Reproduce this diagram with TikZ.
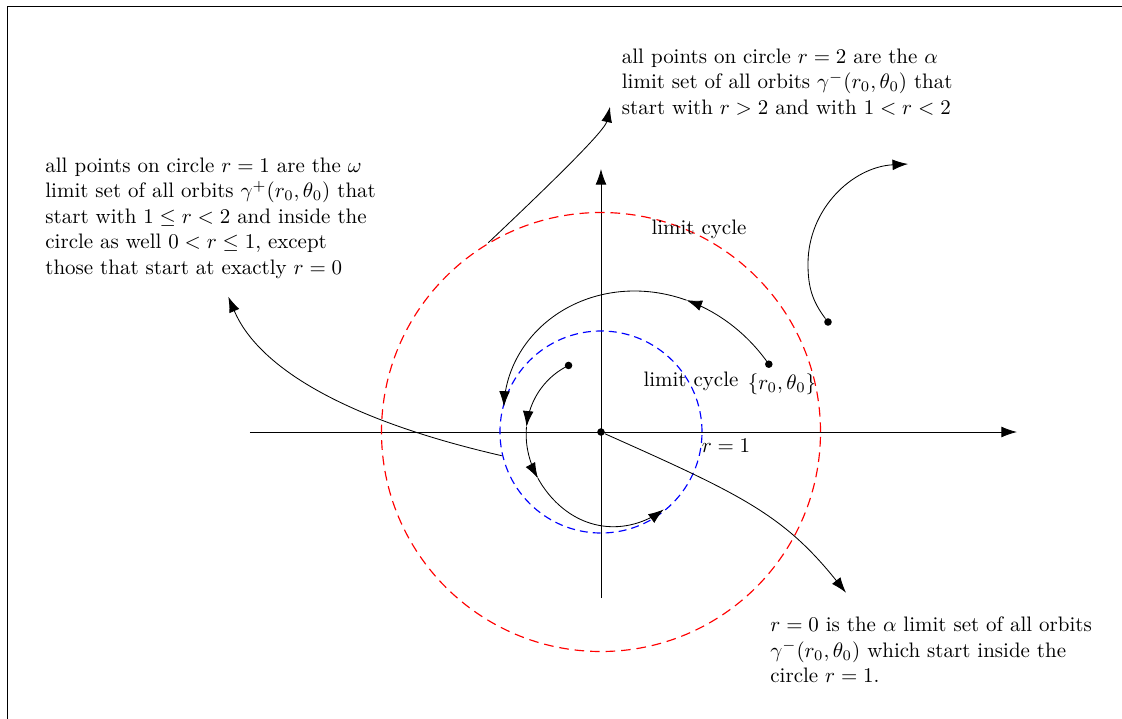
\documentclass[tikz,border=0pt]{standalone}
\usepackage{amsmath,amssymb}
\usepackage{tikz}
\usetikzlibrary{arrows.meta}

\begin{document}
\begin{tikzpicture}[x=0.01677cm, y=0.01677cm,
  font=\fontsize{10pt}{12.2pt}\selectfont, >={Latex[length=2.6mm,width=1.8mm]},
  declare function={spiralout(\t)=181-0.72*(\t-22)+0.0011*(\t-22)*(\t-22);
                    spiralin(\t)=101-27/(1+exp((\t-250)/20));},
  dot/.style={circle, fill=black, inner sep=0pt, minimum size=3.6pt},
  note/.style={align=left, inner sep=0pt, anchor=north west},
  lbl/.style={inner sep=0pt, anchor=base},
  orbit/.style={->, samples=40, smooth},
  cycleone/.style={circle, draw=blue, line width=0.55pt, inner sep=0pt, dash pattern=on 3.8pt off 2.4pt},
  cycletwo/.style={circle, draw=red, line width=0.55pt, inner sep=0pt, dash pattern=on 4.6pt off 2.8pt}]
  \useasboundingbox (-601,-286) rectangle (521,432);
  \coordinate (fbl) at (-594,-290);
  \coordinate (ftr) at (525,426);
  \draw (fbl) |- (ftr);
  % axes
  \coordinate (xl) at (-351,0);
  \coordinate (xr) at (416,0);
  \coordinate (yb) at (0,-166);
  \coordinate (yt) at (0,263);
  \draw[->] (xl) -- (xr);
  \draw[->] (yb) -- (yt);
  % the two limit cycles
  \node[cycleone, minimum size=3.388cm] (cone) at (0,0) {};
  \node[cycletwo, minimum size=7.362cm] (ctwo) at (0,0) {};
  \node[lbl] (lcone) at (90,46) {limit cycle};
  \node[lbl] (lctwo) at (98,197.5) {limit cycle};
  \node[lbl] (rone) at (125,-20.7) {$r=1$};
  \node[lbl] (start) at (181,43) {$\{r_0,\theta_0\}$};
  % starting points
  \node[dot] (orig) at (0,0) {};
  \node[dot] (rz) at (22:181) {};
  \node[dot] (rin) at (116:{spiralin(116)}) {};
  \node[dot] (rout) at (227,110) {};
  % orbit from outside r=1, spiralling in
  \draw[orbit, domain=22:57] plot (\x:{spiralout(\x)});
  \draw[orbit, domain=57:165.4] plot (\x:{spiralout(\x)});
  % orbit from inside r=1, spiralling out
  \draw[orbit, domain=116:175.8] plot (\x:{spiralin(\x)});
  \draw[orbit, domain=175.8:216.2] plot (\x:{spiralin(\x)});
  \draw[orbit, domain=216.2:309] plot (\x:{spiralin(\x)});
  % orbit leaving r=0
  \coordinate (oend) at (245,-160.7);
  \draw[->] (orig) .. controls (139,-62) and (182,-82) .. (oend);
  % orbit leaving r=1 to the left
  \coordinate (lstart) at (-99.3,-23.7);
  \coordinate (lend) at (-372.7,135.3);
  \draw[->] (lstart) .. controls (-261.7,13.6) and (-343.8,67.1) .. (lend);
  % orbit leaving r=2 upwards
  \coordinate (tstart) at (-112.7,189.3);
  \coordinate (tend) at (9,325.3);
  \draw[->] (tstart) .. controls (-41,257) and (4,302) .. (tend);
  % orbit outside r=2
  \coordinate (oleft) at (207,168);
  \coordinate (oend2) at (307,268);
  \draw[->] (rout) to[out=127,in=-90] (oleft) to[out=90,in=183] (oend2);
  % notes
  \node[note] (ntwo) at (20.5,383.7) {all points on circle $r=2$ are the $\alpha$\\
    limit set of all orbits $\gamma^{-}(r_0,\theta_0)$ that\\
    start with $r>2$ and with $1<r<2$};
  \node[note] (none) at (-556,274.7) {all points on circle $r=1$ are the $\omega$\\
    limit set of all orbits $\gamma^{+}(r_0,\theta_0)$ that\\
    start with $1\leq r<2$ and inside the\\
    circle as well $0<r\leq 1$, except\\
    those that start at exactly $r=0$};
  \node[note] (nzero) at (169,-184.5) {$r=0$ is the $\alpha$ limit set of all orbits\\
    $\gamma^{-}(r_0,\theta_0)$ which start inside the\\
    circle $r=1$.};
\end{tikzpicture}
\end{document}
